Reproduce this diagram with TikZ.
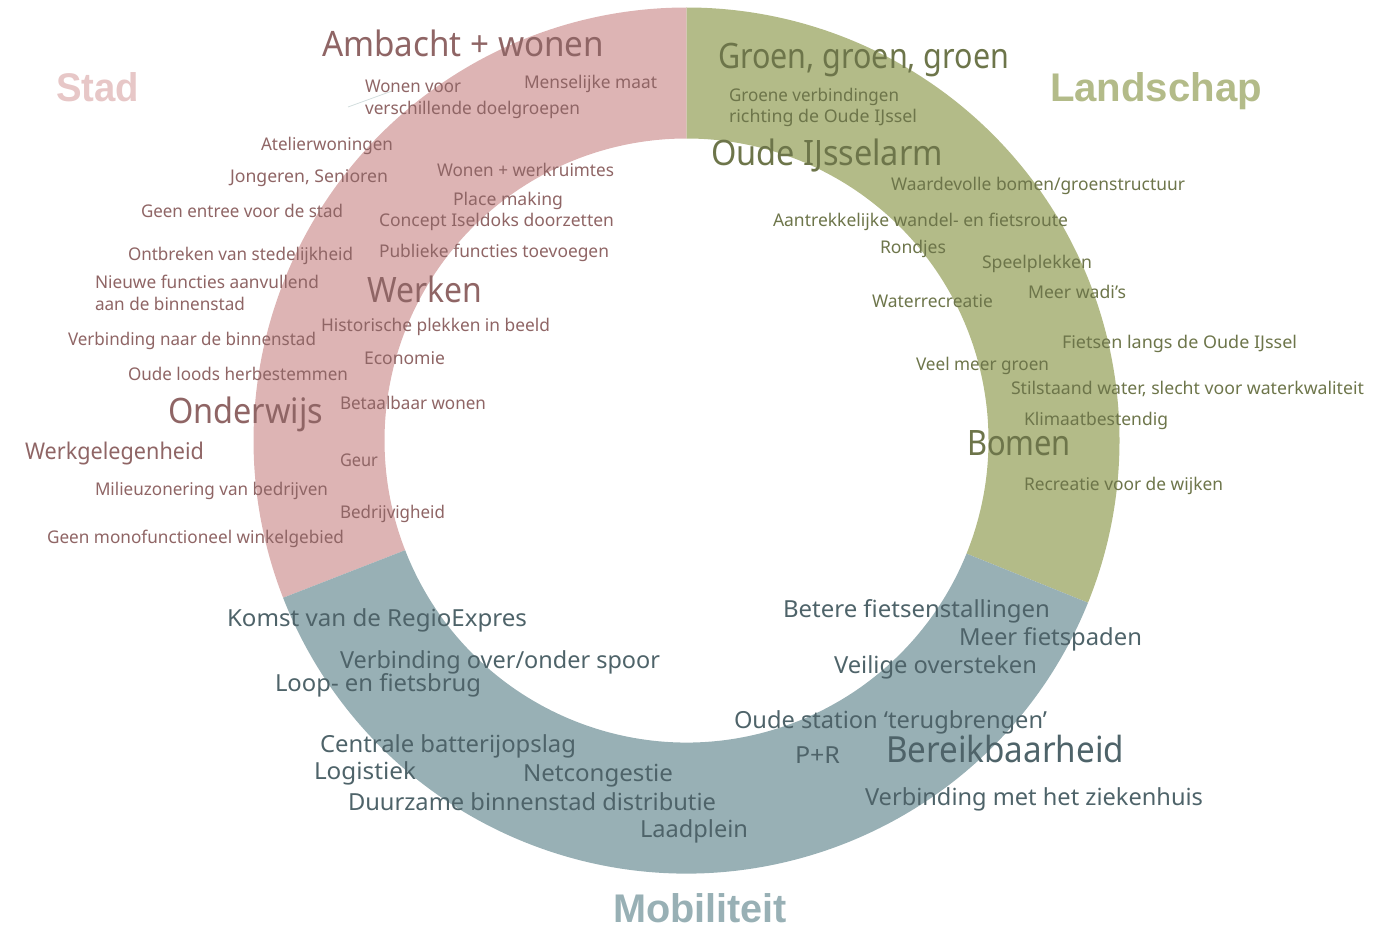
\documentclass[tikz,border=0pt]{standalone}
\usepackage{fontspec}
\usepackage{graphicx}
\setmainfont{Noto Sans}
\newfontfamily\catfont{Liberation Sans}[BoldFont={Liberation Sans Bold}]
\usetikzlibrary{calc}
\definecolor{ringpink}{HTML}{DDB4B4}
\definecolor{ringgreen}{HTML}{B3BB88}
\definecolor{ringblue}{HTML}{98B0B5}
\definecolor{txtpink}{HTML}{8F6565}
\definecolor{txtgreen}{HTML}{6D754A}
\definecolor{txtblue}{HTML}{4E6369}
\definecolor{labpink}{HTML}{E7C7C7}
\definecolor{labgreen}{HTML}{B3BB89}
\definecolor{labblue}{HTML}{98B0B5}
\definecolor{faint}{HTML}{D3DEDE}
\newcommand\fw[2]{\resizebox{#1pt}{\height}{#2}}
\tikzset{
  base/.style={anchor=base west, inner sep=0pt, outer sep=0pt},
  sp/.style={base, text=txtpink, font=\fontsize{17.5}{20}\selectfont},
  lp/.style={base, text=txtpink, font=\fontsize{35}{40}\selectfont},
  mp/.style={base, text=txtpink, font=\fontsize{23}{26}\selectfont},
  sg/.style={base, text=txtgreen, font=\fontsize{17.5}{20}\selectfont},
  lg/.style={base, text=txtgreen, font=\fontsize{35}{40}\selectfont},
  sb/.style={base, text=txtblue, font=\fontsize{23.5}{26}\selectfont},
  lb/.style={base, text=txtblue, font=\fontsize{36}{40}\selectfont},
  cat/.style={base, font=\catfont\fontsize{40}{46}\selectfont\bfseries},
}
\begin{document}
\begin{tikzpicture}[x=1pt,y=-1pt]
\useasboundingbox (0,0) rectangle (1399,931);
\coordinate (c) at (686.5,440.5);
% ring
\fill[ringpink] ($(c)+(-90:433)$) arc[start angle=-90,end angle=-201.3,radius=433]
  -- ($(c)+(-201.3:302)$) arc[start angle=-201.3,end angle=-90,radius=302] -- cycle;
\fill[ringgreen] ($(c)+(-90:433)$) arc[start angle=-90,end angle=22,radius=433]
  -- ($(c)+(22:302)$) arc[start angle=22,end angle=-90,radius=302] -- cycle;
\fill[ringblue] ($(c)+(22:433)$) arc[start angle=22,end angle=158.7,radius=433]
  -- ($(c)+(158.7:302)$) arc[start angle=158.7,end angle=22,radius=302] -- cycle;
% faint line
\coordinate (fl1) at (348,107);
\coordinate (fl2) at (392,91);
\draw[faint, line width=0.8pt] (fl1) -- (fl2);
% category labels
\node[cat, text=labpink] (stad) at (56,102) {\fw{83}{Stad}};
\node[cat, text=labgreen] (landschap) at (1050,102) {\fw{212}{Landschap}};
\node[cat, text=labblue] (mobiliteit) at (613,922) {\fw{174}{Mobiliteit}};
% pink
\node[lp] (ambacht) at (322,57) {\fw{282}{Ambacht + wonen}};
\node[sp] (wonen1) at (365,93) {\fw{96}{Wonen voor}};
\node[sp] (wonen2) at (365,115) {\fw{215}{verschillende doelgroepen}};
\node[sp] (mens) at (524,89) {\fw{133}{Menselijke maat}};
\node[sp] (atel) at (261,150) {\fw{132}{Atelierwoningen}};
\node[sp] (jong) at (230,182) {\fw{158}{Jongeren, Senioren}};
\node[sp] (wwerk) at (437,176) {\fw{177}{Wonen + werkruimtes}};
\node[sp] (place) at (453,205) {\fw{110}{Place making}};
\node[sp] (concept) at (379,226) {\fw{235}{Concept Iseldoks doorzetten}};
\node[sp] (geen) at (141,217) {\fw{202}{Geen entree voor de stad}};
\node[sp] (ontb) at (128,260) {\fw{225}{Ontbreken van stedelijkheid}};
\node[sp] (publ) at (379,257) {\fw{230}{Publieke functies toevoegen}};
\node[sp] (nieuw1) at (95,288) {\fw{224}{Nieuwe functies aanvullend}};
\node[sp] (nieuw2) at (95,310) {\fw{150}{aan de binnenstad}};
\node[lp] (werken) at (367,302) {\fw{115}{Werken}};
\node[sp] (hist) at (321,331) {\fw{229}{Historische plekken in beeld}};
\node[sp] (verb) at (68,345) {\fw{248}{Verbinding naar de binnenstad}};
\node[sp] (econ) at (364,364) {\fw{81}{Economie}};
\node[sp] (loods) at (128,380) {\fw{220}{Oude loods herbestemmen}};
\node[lp] (onderwijs) at (168,423) {\fw{155}{Onderwijs}};
\node[sp] (betaal) at (340,409) {\fw{146}{Betaalbaar wonen}};
\node[mp] (werkgel) at (25,459) {\fw{179}{Werkgelegenheid}};
\node[sp] (geur) at (340,466) {\fw{38}{Geur}};
\node[sp] (milieu) at (95,495) {\fw{233}{Milieuzonering van bedrijven}};
\node[sp] (bedr) at (340,518) {\fw{105}{Bedrijvigheid}};
\node[sp] (mono) at (47,543) {\fw{297}{Geen monofunctioneel winkelgebied}};
% green
\node[lg] (groen) at (718,69) {\fw{291}{Groen, groen, groen}};
\node[sg] (gv1) at (729,102) {\fw{170}{Groene verbindingen}};
\node[sg] (gv2) at (729,123) {\fw{188}{richting de Oude IJssel}};
\node[lg] (oude) at (711,165) {\fw{232}{Oude IJsselarm}};
\node[sg] (waard) at (891,190) {\fw{294}{Waardevolle bomen/groenstructuur}};
\node[sg] (aantr) at (773,226) {\fw{295}{Aantrekkelijke wandel- en fietsroute}};
\node[sg] (rondjes) at (880,253) {\fw{66}{Rondjes}};
\node[sg] (speel) at (982,268) {\fw{110}{Speelplekken}};
\node[sg] (water) at (872,307) {\fw{121}{Waterrecreatie}};
\node[sg] (wadi) at (1028,298) {\fw{98}{Meer wadi’s}};
\node[sg] (fiets) at (1062,348) {\fw{235}{Fietsen langs de Oude IJssel}};
\node[sg] (veel) at (916,370) {\fw{133}{Veel meer groen}};
\node[sg] (stil) at (1011,394) {\fw{353}{Stilstaand water, slecht voor waterkwaliteit}};
\node[sg] (klimaat) at (1024,425) {\fw{144}{Klimaatbestendig}};
\node[lg] (bomen) at (967,455) {\fw{104}{Bomen}};
\node[sg] (recr) at (1024,490) {\fw{199}{Recreatie voor de wijken}};
% blue
\node[sb] (komst) at (227,626) {\fw{300}{Komst van de RegioExpres}};
\node[sb] (vover) at (340,668) {\fw{320}{Verbinding over/onder spoor}};
\node[sb] (loop) at (275,691) {\fw{206}{Loop- en fietsbrug}};
\node[sb] (centrale) at (320,752) {\fw{256}{Centrale batterijopslag}};
\node[sb] (logistiek) at (314,779) {\fw{102}{Logistiek}};
\node[sb] (netcong) at (523,781) {\fw{150}{Netcongestie}};
\node[sb] (duurzaam) at (348,810) {\fw{368}{Duurzame binnenstad distributie}};
\node[sb] (laadplein) at (640,837) {\fw{108}{Laadplein}};
\node[sb] (betere) at (783,617) {\fw{267}{Betere fietsenstallingen}};
\node[sb] (meerf) at (959,645) {\fw{183}{Meer fietspaden}};
\node[sb] (veilig) at (834,673) {\fw{203}{Veilige oversteken}};
\node[sb] (station) at (734,728) {\fw{313}{Oude station ‘terugbrengen’}};
\node[sb] (pr) at (795,763) {\fw{45}{P+R}};
\node[lb] (bereik) at (886,762) {\fw{238}{Bereikbaarheid}};
\node[sb] (zieken) at (865,805) {\fw{338}{Verbinding met het ziekenhuis}};
\end{tikzpicture}
\end{document}
